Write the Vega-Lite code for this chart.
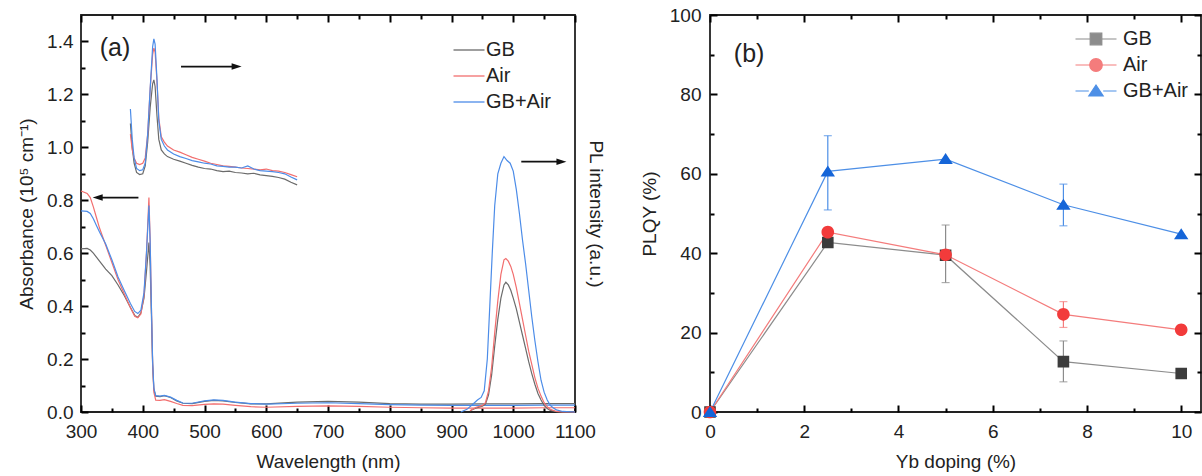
{
  "$schema": "https://vega.github.io/schema/vega-lite/v6.json",
  "background": "white",
  "padding": {"left": 16, "top": 5, "right": 0, "bottom": 0},
  "spacing": 135,
  "bounds": "flush",
  "resolve": {"scale": {"color": "independent", "shape": "independent", "fill": "independent"}, "legend": {"color": "independent", "shape": "independent", "fill": "independent"}},
  "datasets": {
    "abs": [
      {"s":"GB","w":300,"v":0.616},{"s":"GB","w":310,"v":0.618},{"s":"GB","w":315,"v":0.612},{"s":"GB","w":320,"v":0.600},{"s":"GB","w":325,"v":0.585},{"s":"GB","w":330,"v":0.570},{"s":"GB","w":340,"v":0.540},{"s":"GB","w":350,"v":0.515},{"s":"GB","w":360,"v":0.480},{"s":"GB","w":370,"v":0.440},{"s":"GB","w":380,"v":0.395},{"s":"GB","w":387,"v":0.365},{"s":"GB","w":392,"v":0.358},{"s":"GB","w":397,"v":0.375},{"s":"GB","w":402,"v":0.430},{"s":"GB","w":406,"v":0.530},{"s":"GB","w":410,"v":0.640},{"s":"GB","w":412,"v":0.550},{"s":"GB","w":414,"v":0.370},{"s":"GB","w":416,"v":0.180},{"s":"GB","w":418,"v":0.085},{"s":"GB","w":421,"v":0.060},{"s":"GB","w":428,"v":0.058},{"s":"GB","w":435,"v":0.062},{"s":"GB","w":445,"v":0.055},{"s":"GB","w":455,"v":0.042},{"s":"GB","w":465,"v":0.033},{"s":"GB","w":480,"v":0.032},{"s":"GB","w":500,"v":0.040},{"s":"GB","w":515,"v":0.044},{"s":"GB","w":530,"v":0.042},{"s":"GB","w":550,"v":0.036},{"s":"GB","w":575,"v":0.031},{"s":"GB","w":600,"v":0.031},{"s":"GB","w":650,"v":0.037},{"s":"GB","w":700,"v":0.040},{"s":"GB","w":750,"v":0.037},{"s":"GB","w":800,"v":0.032},{"s":"GB","w":850,"v":0.030},{"s":"GB","w":900,"v":0.030},{"s":"GB","w":950,"v":0.031},{"s":"GB","w":1000,"v":0.031},{"s":"GB","w":1050,"v":0.032},{"s":"GB","w":1100,"v":0.032},
      {"s":"Air","w":300,"v":0.835},{"s":"Air","w":310,"v":0.826},{"s":"Air","w":315,"v":0.810},{"s":"Air","w":320,"v":0.775},{"s":"Air","w":325,"v":0.735},{"s":"Air","w":330,"v":0.695},{"s":"Air","w":340,"v":0.630},{"s":"Air","w":350,"v":0.565},{"s":"Air","w":360,"v":0.500},{"s":"Air","w":370,"v":0.447},{"s":"Air","w":380,"v":0.395},{"s":"Air","w":387,"v":0.362},{"s":"Air","w":392,"v":0.356},{"s":"Air","w":397,"v":0.370},{"s":"Air","w":402,"v":0.440},{"s":"Air","w":406,"v":0.600},{"s":"Air","w":410,"v":0.810},{"s":"Air","w":412,"v":0.650},{"s":"Air","w":414,"v":0.400},{"s":"Air","w":416,"v":0.180},{"s":"Air","w":418,"v":0.075},{"s":"Air","w":421,"v":0.045},{"s":"Air","w":428,"v":0.044},{"s":"Air","w":435,"v":0.047},{"s":"Air","w":445,"v":0.040},{"s":"Air","w":455,"v":0.032},{"s":"Air","w":465,"v":0.025},{"s":"Air","w":480,"v":0.024},{"s":"Air","w":500,"v":0.029},{"s":"Air","w":515,"v":0.031},{"s":"Air","w":530,"v":0.030},{"s":"Air","w":550,"v":0.025},{"s":"Air","w":575,"v":0.020},{"s":"Air","w":600,"v":0.018},{"s":"Air","w":650,"v":0.021},{"s":"Air","w":700,"v":0.023},{"s":"Air","w":750,"v":0.021},{"s":"Air","w":800,"v":0.018},{"s":"Air","w":850,"v":0.016},{"s":"Air","w":900,"v":0.015},{"s":"Air","w":950,"v":0.015},{"s":"Air","w":1000,"v":0.015},{"s":"Air","w":1050,"v":0.016},{"s":"Air","w":1100,"v":0.016},
      {"s":"GB+Air","w":300,"v":0.760},{"s":"GB+Air","w":310,"v":0.758},{"s":"GB+Air","w":315,"v":0.750},{"s":"GB+Air","w":320,"v":0.730},{"s":"GB+Air","w":325,"v":0.705},{"s":"GB+Air","w":330,"v":0.680},{"s":"GB+Air","w":340,"v":0.635},{"s":"GB+Air","w":350,"v":0.575},{"s":"GB+Air","w":360,"v":0.510},{"s":"GB+Air","w":370,"v":0.459},{"s":"GB+Air","w":380,"v":0.410},{"s":"GB+Air","w":387,"v":0.380},{"s":"GB+Air","w":392,"v":0.372},{"s":"GB+Air","w":397,"v":0.385},{"s":"GB+Air","w":402,"v":0.450},{"s":"GB+Air","w":406,"v":0.600},{"s":"GB+Air","w":410,"v":0.780},{"s":"GB+Air","w":412,"v":0.640},{"s":"GB+Air","w":414,"v":0.400},{"s":"GB+Air","w":416,"v":0.190},{"s":"GB+Air","w":418,"v":0.090},{"s":"GB+Air","w":421,"v":0.062},{"s":"GB+Air","w":428,"v":0.060},{"s":"GB+Air","w":435,"v":0.063},{"s":"GB+Air","w":445,"v":0.056},{"s":"GB+Air","w":455,"v":0.044},{"s":"GB+Air","w":465,"v":0.034},{"s":"GB+Air","w":480,"v":0.033},{"s":"GB+Air","w":500,"v":0.042},{"s":"GB+Air","w":515,"v":0.046},{"s":"GB+Air","w":530,"v":0.044},{"s":"GB+Air","w":550,"v":0.037},{"s":"GB+Air","w":575,"v":0.032},{"s":"GB+Air","w":600,"v":0.030},{"s":"GB+Air","w":650,"v":0.033},{"s":"GB+Air","w":700,"v":0.035},{"s":"GB+Air","w":750,"v":0.032},{"s":"GB+Air","w":800,"v":0.028},{"s":"GB+Air","w":850,"v":0.026},{"s":"GB+Air","w":900,"v":0.025},{"s":"GB+Air","w":950,"v":0.025},{"s":"GB+Air","w":1000,"v":0.025},{"s":"GB+Air","w":1050,"v":0.026},{"s":"GB+Air","w":1100,"v":0.026}
    ],
    "pl": [
      {"s":"GB","g":"vis","w":380,"v":1.09},{"s":"GB","g":"vis","w":383,"v":1.0},{"s":"GB","g":"vis","w":386,"v":0.94},{"s":"GB","g":"vis","w":390,"v":0.905},{"s":"GB","g":"vis","w":395,"v":0.897},{"s":"GB","g":"vis","w":400,"v":0.9},{"s":"GB","g":"vis","w":404,"v":0.93},{"s":"GB","g":"vis","w":408,"v":1.02},{"s":"GB","g":"vis","w":412,"v":1.15},{"s":"GB","g":"vis","w":416,"v":1.24},{"s":"GB","g":"vis","w":418,"v":1.255},{"s":"GB","g":"vis","w":420,"v":1.23},{"s":"GB","g":"vis","w":423,"v":1.12},{"s":"GB","g":"vis","w":426,"v":1.03},{"s":"GB","g":"vis","w":430,"v":0.99},{"s":"GB","g":"vis","w":435,"v":0.975},{"s":"GB","g":"vis","w":440,"v":0.965},{"s":"GB","g":"vis","w":450,"v":0.955},{"s":"GB","g":"vis","w":460,"v":0.948},{"s":"GB","g":"vis","w":470,"v":0.94},{"s":"GB","g":"vis","w":480,"v":0.932},{"s":"GB","g":"vis","w":490,"v":0.925},{"s":"GB","g":"vis","w":500,"v":0.92},{"s":"GB","g":"vis","w":510,"v":0.918},{"s":"GB","g":"vis","w":520,"v":0.912},{"s":"GB","g":"vis","w":530,"v":0.908},{"s":"GB","g":"vis","w":540,"v":0.91},{"s":"GB","g":"vis","w":550,"v":0.905},{"s":"GB","g":"vis","w":560,"v":0.903},{"s":"GB","g":"vis","w":570,"v":0.9},{"s":"GB","g":"vis","w":580,"v":0.902},{"s":"GB","g":"vis","w":590,"v":0.896},{"s":"GB","g":"vis","w":600,"v":0.893},{"s":"GB","g":"vis","w":610,"v":0.89},{"s":"GB","g":"vis","w":620,"v":0.886},{"s":"GB","g":"vis","w":630,"v":0.88},{"s":"GB","g":"vis","w":640,"v":0.868},{"s":"GB","g":"vis","w":650,"v":0.858},
      {"s":"Air","g":"vis","w":380,"v":1.05},{"s":"Air","g":"vis","w":383,"v":0.99},{"s":"Air","g":"vis","w":386,"v":0.96},{"s":"Air","g":"vis","w":390,"v":0.94},{"s":"Air","g":"vis","w":395,"v":0.935},{"s":"Air","g":"vis","w":400,"v":0.94},{"s":"Air","g":"vis","w":404,"v":0.96},{"s":"Air","g":"vis","w":408,"v":1.05},{"s":"Air","g":"vis","w":412,"v":1.22},{"s":"Air","g":"vis","w":416,"v":1.35},{"s":"Air","g":"vis","w":418,"v":1.375},{"s":"Air","g":"vis","w":420,"v":1.36},{"s":"Air","g":"vis","w":423,"v":1.25},{"s":"Air","g":"vis","w":426,"v":1.11},{"s":"Air","g":"vis","w":430,"v":1.04},{"s":"Air","g":"vis","w":435,"v":1.02},{"s":"Air","g":"vis","w":440,"v":1.005},{"s":"Air","g":"vis","w":450,"v":0.99},{"s":"Air","g":"vis","w":460,"v":0.982},{"s":"Air","g":"vis","w":470,"v":0.972},{"s":"Air","g":"vis","w":480,"v":0.962},{"s":"Air","g":"vis","w":490,"v":0.955},{"s":"Air","g":"vis","w":500,"v":0.948},{"s":"Air","g":"vis","w":510,"v":0.94},{"s":"Air","g":"vis","w":520,"v":0.935},{"s":"Air","g":"vis","w":530,"v":0.93},{"s":"Air","g":"vis","w":540,"v":0.928},{"s":"Air","g":"vis","w":550,"v":0.925},{"s":"Air","g":"vis","w":560,"v":0.922},{"s":"Air","g":"vis","w":570,"v":0.92},{"s":"Air","g":"vis","w":580,"v":0.918},{"s":"Air","g":"vis","w":590,"v":0.915},{"s":"Air","g":"vis","w":600,"v":0.918},{"s":"Air","g":"vis","w":610,"v":0.912},{"s":"Air","g":"vis","w":620,"v":0.91},{"s":"Air","g":"vis","w":630,"v":0.905},{"s":"Air","g":"vis","w":640,"v":0.897},{"s":"Air","g":"vis","w":650,"v":0.889},
      {"s":"GB+Air","g":"vis","w":380,"v":1.145},{"s":"GB+Air","g":"vis","w":383,"v":1.03},{"s":"GB+Air","g":"vis","w":386,"v":0.96},{"s":"GB+Air","g":"vis","w":390,"v":0.92},{"s":"GB+Air","g":"vis","w":395,"v":0.912},{"s":"GB+Air","g":"vis","w":400,"v":0.915},{"s":"GB+Air","g":"vis","w":404,"v":0.94},{"s":"GB+Air","g":"vis","w":408,"v":1.05},{"s":"GB+Air","g":"vis","w":412,"v":1.22},{"s":"GB+Air","g":"vis","w":416,"v":1.38},{"s":"GB+Air","g":"vis","w":418,"v":1.41},{"s":"GB+Air","g":"vis","w":420,"v":1.39},{"s":"GB+Air","g":"vis","w":423,"v":1.26},{"s":"GB+Air","g":"vis","w":426,"v":1.1},{"s":"GB+Air","g":"vis","w":430,"v":1.03},{"s":"GB+Air","g":"vis","w":435,"v":1.005},{"s":"GB+Air","g":"vis","w":440,"v":0.99},{"s":"GB+Air","g":"vis","w":450,"v":0.975},{"s":"GB+Air","g":"vis","w":460,"v":0.965},{"s":"GB+Air","g":"vis","w":470,"v":0.958},{"s":"GB+Air","g":"vis","w":480,"v":0.95},{"s":"GB+Air","g":"vis","w":490,"v":0.945},{"s":"GB+Air","g":"vis","w":500,"v":0.94},{"s":"GB+Air","g":"vis","w":510,"v":0.937},{"s":"GB+Air","g":"vis","w":520,"v":0.93},{"s":"GB+Air","g":"vis","w":530,"v":0.928},{"s":"GB+Air","g":"vis","w":540,"v":0.925},{"s":"GB+Air","g":"vis","w":550,"v":0.925},{"s":"GB+Air","g":"vis","w":560,"v":0.922},{"s":"GB+Air","g":"vis","w":570,"v":0.93},{"s":"GB+Air","g":"vis","w":580,"v":0.918},{"s":"GB+Air","g":"vis","w":590,"v":0.912},{"s":"GB+Air","g":"vis","w":600,"v":0.91},{"s":"GB+Air","g":"vis","w":610,"v":0.908},{"s":"GB+Air","g":"vis","w":620,"v":0.905},{"s":"GB+Air","g":"vis","w":630,"v":0.9},{"s":"GB+Air","g":"vis","w":640,"v":0.888},{"s":"GB+Air","g":"vis","w":650,"v":0.877},
      {"s":"GB","g":"nir","w":930,"v":0.005},{"s":"GB","g":"nir","w":940,"v":0.015},{"s":"GB","g":"nir","w":950,"v":0.022},{"s":"GB","g":"nir","w":955,"v":0.03},{"s":"GB","g":"nir","w":960,"v":0.065},{"s":"GB","g":"nir","w":965,"v":0.14},{"s":"GB","g":"nir","w":970,"v":0.25},{"s":"GB","g":"nir","w":975,"v":0.35},{"s":"GB","g":"nir","w":980,"v":0.43},{"s":"GB","g":"nir","w":985,"v":0.48},{"s":"GB","g":"nir","w":988,"v":0.49},{"s":"GB","g":"nir","w":992,"v":0.48},{"s":"GB","g":"nir","w":996,"v":0.46},{"s":"GB","g":"nir","w":1000,"v":0.43},{"s":"GB","g":"nir","w":1005,"v":0.39},{"s":"GB","g":"nir","w":1010,"v":0.34},{"s":"GB","g":"nir","w":1015,"v":0.29},{"s":"GB","g":"nir","w":1020,"v":0.24},{"s":"GB","g":"nir","w":1025,"v":0.19},{"s":"GB","g":"nir","w":1030,"v":0.145},{"s":"GB","g":"nir","w":1035,"v":0.105},{"s":"GB","g":"nir","w":1040,"v":0.07},{"s":"GB","g":"nir","w":1045,"v":0.045},{"s":"GB","g":"nir","w":1050,"v":0.025},{"s":"GB","g":"nir","w":1055,"v":0.013},{"s":"GB","g":"nir","w":1060,"v":0.006},{"s":"GB","g":"nir","w":1070,"v":0.001},{"s":"GB","g":"nir","w":1080,"v":0},{"s":"GB","g":"nir","w":1100,"v":0},
      {"s":"Air","g":"nir","w":930,"v":0.005},{"s":"Air","g":"nir","w":940,"v":0.018},{"s":"Air","g":"nir","w":950,"v":0.025},{"s":"Air","g":"nir","w":955,"v":0.035},{"s":"Air","g":"nir","w":960,"v":0.08},{"s":"Air","g":"nir","w":965,"v":0.17},{"s":"Air","g":"nir","w":970,"v":0.3},{"s":"Air","g":"nir","w":975,"v":0.42},{"s":"Air","g":"nir","w":980,"v":0.52},{"s":"Air","g":"nir","w":985,"v":0.575},{"s":"Air","g":"nir","w":988,"v":0.58},{"s":"Air","g":"nir","w":992,"v":0.57},{"s":"Air","g":"nir","w":996,"v":0.55},{"s":"Air","g":"nir","w":1000,"v":0.52},{"s":"Air","g":"nir","w":1005,"v":0.47},{"s":"Air","g":"nir","w":1010,"v":0.41},{"s":"Air","g":"nir","w":1015,"v":0.35},{"s":"Air","g":"nir","w":1020,"v":0.29},{"s":"Air","g":"nir","w":1025,"v":0.23},{"s":"Air","g":"nir","w":1030,"v":0.18},{"s":"Air","g":"nir","w":1035,"v":0.13},{"s":"Air","g":"nir","w":1040,"v":0.09},{"s":"Air","g":"nir","w":1045,"v":0.06},{"s":"Air","g":"nir","w":1050,"v":0.035},{"s":"Air","g":"nir","w":1055,"v":0.02},{"s":"Air","g":"nir","w":1060,"v":0.01},{"s":"Air","g":"nir","w":1070,"v":0.002},{"s":"Air","g":"nir","w":1080,"v":0},{"s":"Air","g":"nir","w":1100,"v":0},
      {"s":"GB+Air","g":"nir","w":915,"v":0},{"s":"GB+Air","g":"nir","w":925,"v":0.01},{"s":"GB+Air","g":"nir","w":935,"v":0.03},{"s":"GB+Air","g":"nir","w":942,"v":0.045},{"s":"GB+Air","g":"nir","w":948,"v":0.055},{"s":"GB+Air","g":"nir","w":953,"v":0.08},{"s":"GB+Air","g":"nir","w":958,"v":0.2},{"s":"GB+Air","g":"nir","w":962,"v":0.4},{"s":"GB+Air","g":"nir","w":966,"v":0.6},{"s":"GB+Air","g":"nir","w":970,"v":0.78},{"s":"GB+Air","g":"nir","w":975,"v":0.9},{"s":"GB+Air","g":"nir","w":980,"v":0.94},{"s":"GB+Air","g":"nir","w":985,"v":0.965},{"s":"GB+Air","g":"nir","w":990,"v":0.95},{"s":"GB+Air","g":"nir","w":995,"v":0.94},{"s":"GB+Air","g":"nir","w":1000,"v":0.91},{"s":"GB+Air","g":"nir","w":1005,"v":0.84},{"s":"GB+Air","g":"nir","w":1010,"v":0.75},{"s":"GB+Air","g":"nir","w":1015,"v":0.65},{"s":"GB+Air","g":"nir","w":1020,"v":0.56},{"s":"GB+Air","g":"nir","w":1025,"v":0.46},{"s":"GB+Air","g":"nir","w":1030,"v":0.36},{"s":"GB+Air","g":"nir","w":1035,"v":0.27},{"s":"GB+Air","g":"nir","w":1040,"v":0.19},{"s":"GB+Air","g":"nir","w":1045,"v":0.12},{"s":"GB+Air","g":"nir","w":1050,"v":0.075},{"s":"GB+Air","g":"nir","w":1055,"v":0.045},{"s":"GB+Air","g":"nir","w":1060,"v":0.025},{"s":"GB+Air","g":"nir","w":1065,"v":0.015},{"s":"GB+Air","g":"nir","w":1070,"v":0.008},{"s":"GB+Air","g":"nir","w":1080,"v":0.002},{"s":"GB+Air","g":"nir","w":1100,"v":0}
    ],
    "arrows": [
      {"x1":462,"x2":552,"y":1.305},
      {"x1":327,"x2":393,"y":0.81},
      {"x1":1013,"x2":1078,"y":0.946}
    ],
    "heads": [
      {"x":552,"y":1.305,"d":"r"},
      {"x":327,"y":0.81,"d":"l"},
      {"x":1078,"y":0.946,"d":"r"}
    ],
    "plqy": [
      {"s":"GB","x":0,"y":0},{"s":"GB","x":2.5,"y":42.7},{"s":"GB","x":5,"y":39.5},{"s":"GB","x":7.5,"y":12.7},{"s":"GB","x":10,"y":9.7},
      {"s":"Air","x":0,"y":0},{"s":"Air","x":2.5,"y":45.3},{"s":"Air","x":5,"y":39.6},{"s":"Air","x":7.5,"y":24.6},{"s":"Air","x":10,"y":20.7},
      {"s":"GB+Air","x":0,"y":0},{"s":"GB+Air","x":2.5,"y":60.6},{"s":"GB+Air","x":5,"y":63.7},{"s":"GB+Air","x":7.5,"y":52.2},{"s":"GB+Air","x":10,"y":44.8}
    ],
    "err": [
      {"s":"GB","x":5,"lo":32.6,"hi":47.1},{"s":"GB","x":7.5,"lo":7.6,"hi":17.9},
      {"s":"Air","x":7.5,"lo":21.3,"hi":27.8},
      {"s":"GB+Air","x":2.5,"lo":50.9,"hi":69.6},{"s":"GB+Air","x":7.5,"lo":46.9,"hi":57.4}
    ]
  },
  "hconcat": [
    {
      "width": 494,
      "height": 397,
      "resolve": {"scale": {"y": "shared"}, "axis": {"x": "independent", "y": "independent"}},
      "layer": [
        {
          "data": {"name": "abs"},
          "mark": {"type": "line", "strokeWidth": 1.2},
          "encoding": {
            "x": {"field": "w", "type": "quantitative", "scale": {"domain": [300, 1100], "nice": false, "zero": false},
              "axis": {"orient": "bottom", "values": [300,400,500,600,700,800,900,1000,1100], "format": "d",
                "offset": -7, "tickSize": 7, "labelPadding": 10, "title": "Wavelength (nm)", "titlePadding": 11}},
            "y": {"field": "v", "type": "quantitative", "scale": {"domain": [0, 1.5], "nice": false},
              "axis": {"orient": "left", "values": [0,0.2,0.4,0.6,0.8,1.0,1.2,1.4], "format": ".1f",
                "offset": -7, "tickSize": 7, "labelPadding": 8, "title": "Absorbance (10⁵ cm⁻¹)", "titlePadding": 10}},
            "color": {"field": "s", "type": "nominal",
              "scale": {"domain": ["GB", "Air", "GB+Air"], "range": ["#6b6b6b", "#f26e6e", "#4c8ce8"]},
              "legend": {"orient": "none", "legendX": 377, "legendY": 24, "title": null, "symbolType": "M-1.55,0H1.55", "symbolSize": 400,
                "symbolStrokeWidth": 1.3, "symbolFillColor": "transparent", "labelOffset": 6, "rowPadding": 5, "padding": 0,
                "labelFontSize": 20, "labelFont": "Liberation Sans", "labelColor": "#222"}}
          }
        },
        {
          "data": {"name": "pl"},
          "mark": {"type": "line", "strokeWidth": 1.2},
          "encoding": {
            "x": {"field": "w", "type": "quantitative",
              "axis": {"orient": "top", "values": [300,400,500,600,700,800,900,1000,1100], "labels": false, "offset": -7, "tickSize": 7, "title": null}},
            "y": {"field": "v", "type": "quantitative",
              "axis": {"orient": "right", "ticks": false, "labels": false, "title": "PL intensity (a.u.)", "titlePadding": 10}},
            "color": {"field": "s", "type": "nominal", "legend": null},
            "detail": {"field": "g"}
          }
        },
        {
          "data": {"name": "heads"},
          "mark": {"type": "point", "opacity": 0},
          "encoding": {
            "x": {"field": "x", "type": "quantitative",
              "axis": {"orient": "bottom", "values": [350,450,550,650,750,850,950,1050], "labels": false, "offset": -4, "tickSize": 4, "title": null}},
            "y": {"field": "y", "type": "quantitative",
              "axis": {"orient": "left", "values": [0.1,0.3,0.5,0.7,0.9,1.1,1.3], "labels": false, "offset": -4, "tickSize": 4, "title": null}}
          }
        },
        {
          "data": {"name": "heads"},
          "mark": {"type": "point", "opacity": 0},
          "encoding": {
            "x": {"field": "x", "type": "quantitative",
              "axis": {"orient": "top", "values": [350,450,550,650,750,850,950,1050], "labels": false, "offset": -4, "tickSize": 4, "title": null}},
            "y": {"field": "y", "type": "quantitative", "axis": null}
          }
        },
        {
          "data": {"name": "arrows"},
          "mark": {"type": "rule", "strokeWidth": 1.6, "color": "#111"},
          "encoding": {
            "x": {"field": "x1", "type": "quantitative", "axis": null},
            "x2": {"field": "x2"},
            "y": {"field": "y", "type": "quantitative", "axis": null}
          }
        },
        {
          "data": {"name": "heads"},
          "mark": {"type": "point", "filled": true, "color": "#111", "size": 100, "opacity": 1},
          "encoding": {
            "x": {"field": "x", "type": "quantitative", "axis": null},
            "y": {"field": "y", "type": "quantitative", "axis": null},
            "shape": {"field": "d", "type": "nominal", "scale": {"domain": ["r", "l"], "range": ["M1,0L-1,-0.65L-1,0.65Z", "M-1,0L1,-0.65L1,0.65Z"]}, "legend": null}
          }
        },
        {
          "data": {"values": [{"x": 355, "y": 1.376, "t": "(a)"}]},
          "mark": {"type": "text", "fontSize": 25, "font": "Liberation Sans", "color": "#222", "baseline": "middle", "align": "center"},
          "encoding": {
            "x": {"field": "x", "type": "quantitative", "axis": null},
            "y": {"field": "y", "type": "quantitative", "axis": null},
            "text": {"field": "t"}
          }
        }
      ]
    },
    {
      "width": 491,
      "height": 397,
      "resolve": {"axis": {"x": "independent", "y": "independent"}},
      "layer": [
        {
          "data": {"name": "plqy"},
          "mark": {"type": "line", "strokeWidth": 1.2},
          "encoding": {
            "x": {"field": "x", "type": "quantitative", "scale": {"domain": [0, 10.42], "nice": false},
              "axis": {"orient": "bottom", "values": [0,2,4,6,8,10], "format": "d",
                "offset": -7, "tickSize": 7, "labelPadding": 10, "title": "Yb doping (%)", "titlePadding": 11}},
            "y": {"field": "y", "type": "quantitative", "scale": {"domain": [0, 100], "nice": false},
              "axis": {"orient": "left", "values": [0,20,40,60,80,100], "format": "d",
                "offset": -7, "tickSize": 7, "labelPadding": 9, "title": "PLQY (%)", "titlePadding": 10}},
            "color": {"field": "s", "type": "nominal",
              "scale": {"domain": ["GB", "Air", "GB+Air"], "range": ["#8c8c8c", "#f47c7c", "#4d8fe6"]},
              "legend": {"orient": "none", "legendX": 375, "legendY": 13, "title": null, "symbolSize": 400, "labelOffset": 16,
                "rowPadding": 5, "padding": 0, "labelFontSize": 20, "labelFont": "Liberation Sans", "labelColor": "#222",
                "symbolStrokeWidth": 1.2, "symbolOpacity": 1}}
          }
        },
        {
          "data": {"name": "err"},
          "mark": {"type": "errorbar", "ticks": {"size": 8}, "thickness": 1.2},
          "encoding": {
            "x": {"field": "x", "type": "quantitative", "axis": null},
            "y": {"field": "lo", "type": "quantitative", "axis": null},
            "y2": {"field": "hi"},
            "color": {"field": "s", "type": "nominal", "legend": null}
          }
        },
        {
          "data": {"name": "plqy"},
          "mark": {"type": "point", "filled": true, "size": 400, "opacity": 1, "strokeWidth": 0},
          "encoding": {
            "x": {"field": "x", "type": "quantitative",
              "axis": {"orient": "top", "values": [0,2,4,6,8,10], "labels": false, "offset": -7, "tickSize": 7, "title": null}},
            "y": {"field": "y", "type": "quantitative",
              "axis": {"orient": "right", "values": [0,20,40,60,80,100], "labels": false, "offset": -7, "tickSize": 7, "title": null}},
            "fill": {"field": "s", "type": "nominal", "scale": {"domain": ["GB", "Air", "GB+Air"], "range": ["#3c3c3c", "#f23b3b", "#1565d8"]}, "legend": null},
            "shape": {"field": "s", "type": "nominal", "scale": {"domain": ["GB", "Air", "GB+Air"],
              "range": ["M-2.05,0H-0.58M0.58,0H2.05M-0.58,-0.58H0.58V0.58H-0.58Z",
                        "M-2.05,0H-0.63M0.63,0H2.05M-0.63,0A0.63,0.63,0,1,1,0.63,0A0.63,0.63,0,1,1,-0.63,0Z",
                        "M-2.05,0H-0.72M0.72,0H2.05M0,-0.6L0.72,0.5L-0.72,0.5Z"]}, "legend": null}
          }
        },
        {
          "data": {"name": "plqy"},
          "mark": {"type": "point", "opacity": 0},
          "encoding": {
            "x": {"field": "x", "type": "quantitative",
              "axis": {"orient": "bottom", "values": [1,3,5,7,9], "labels": false, "offset": -4, "tickSize": 4, "title": null}},
            "y": {"field": "y", "type": "quantitative",
              "axis": {"orient": "left", "values": [10,30,50,70,90], "labels": false, "offset": -4, "tickSize": 4, "title": null}}
          }
        },
        {
          "data": {"name": "plqy"},
          "mark": {"type": "point", "opacity": 0},
          "encoding": {
            "x": {"field": "x", "type": "quantitative",
              "axis": {"orient": "top", "values": [1,3,5,7,9], "labels": false, "offset": -4, "tickSize": 4, "title": null}},
            "y": {"field": "y", "type": "quantitative",
              "axis": {"orient": "right", "values": [10,30,50,70,90], "labels": false, "offset": -4, "tickSize": 4, "title": null}}
          }
        },
        {
          "data": {"values": [{"x": 0.83, "y": 90.3, "t": "(b)"}]},
          "mark": {"type": "text", "fontSize": 25, "font": "Liberation Sans", "color": "#222", "baseline": "middle", "align": "center"},
          "encoding": {
            "x": {"field": "x", "type": "quantitative", "axis": null},
            "y": {"field": "y", "type": "quantitative", "axis": null},
            "text": {"field": "t"}
          }
        }
      ]
    }
  ],
  "config": {
    "font": "Liberation Sans",
    "view": {"stroke": "#222", "strokeWidth": 1.8},
    "axis": {"grid": false, "domain": false, "zindex": 2, "labelFont": "Liberation Sans", "labelFontSize": 19, "labelColor": "#222",
      "titleFont": "Liberation Sans", "titleFontSize": 19, "titleFontWeight": "normal", "titleColor": "#222",
      "tickColor": "#000", "tickWidth": 2, "tickOpacity": 1, "labelFlush": false, "labelOverlap": false, "labelBound": false}
  }
}
